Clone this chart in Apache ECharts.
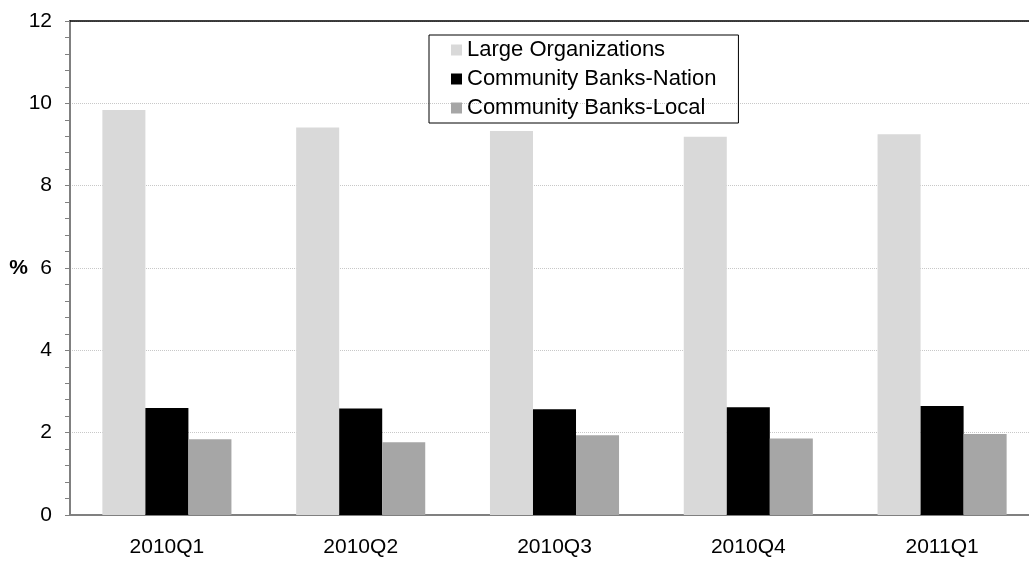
<!DOCTYPE html>
<html><head><meta charset="utf-8">
<script src="https://cdn.jsdelivr.net/npm/echarts@6/dist/echarts.min.js"></script>
<style>html,body{margin:0;padding:0;background:#fff}#c{width:1029px;height:563px}</style>
</head><body><div id="c"></div>
<script>
var categories = ['2010Q1','2010Q2','2010Q3','2010Q4','2011Q1'];
var largeOrg = [9.84, 9.41, 9.33, 9.19, 9.25];
var commNation = [2.60, 2.59, 2.57, 2.62, 2.65];
var commLocal = [1.84, 1.77, 1.94, 1.86, 1.97];
var seriesNames = ['Large Organizations','Community Banks-Nation','Community Banks-Local'];
var yTicks = [0, 2, 4, 6, 8, 10, 12];

var font = 'Arial, "Liberation Sans", sans-serif';
var chart = echarts.init(document.getElementById('c'), null, {renderer:'canvas'});
chart.setOption({
  animation:false,
  backgroundColor:'#fff',
  textStyle:{fontFamily:font},
  grid:{left:70, width:969, top:21, bottom:48, containLabel:false, outerBoundsMode:'none'},
  legend:{
    orient:'vertical', left:429, top:35,
    data:seriesNames,
    borderColor:'#000', borderWidth:1, borderRadius:0,
    padding:[4,22,4,22], itemGap:7, itemWidth:11, itemHeight:11,
    icon:'rect',
    textStyle:{fontSize:22, color:'#000', fontFamily:font}
  },
  xAxis:[{
    type:'category', data:categories, position:'bottom',
    axisLine:{lineStyle:{color:'#808080', width:2}},
    axisTick:{show:false},
    axisLabel:{fontSize:21, color:'#000', margin:22, fontFamily:font}
  },{
    type:'category', data:categories, position:'top',
    axisLine:{lineStyle:{color:'#000', width:1.5}},
    axisTick:{show:false}, axisLabel:{show:false}
  }],
  yAxis:{
    type:'value', min:yTicks[0], max:yTicks[yTicks.length-1], interval:2,
    name:'%', nameLocation:'middle', nameRotate:0, nameGap:42, nameMoveOverlap:false,
    nameTextStyle:{fontSize:21, fontWeight:'bold', color:'#000', fontFamily:font},
    axisLine:{show:true, lineStyle:{color:'#808080', width:2}},
    axisTick:{show:true, length:5, inside:false, lineStyle:{color:'#808080'}},
    minorTick:{show:true, splitNumber:5, length:5, lineStyle:{color:'#808080'}},
    axisLabel:{fontSize:21, color:'#000', margin:18, fontFamily:font},
    splitLine:{show:true, lineStyle:{color:'#c8c8c8', type:'dotted', width:1}}
  },
  series:[
    {name:seriesNames[0], type:'bar', data:largeOrg, itemStyle:{color:'#d9d9d9'}, barGap:'0%', barCategoryGap:'33.4%'},
    {name:seriesNames[1], type:'bar', data:commNation, itemStyle:{color:'#000000'}, barGap:'0%', barCategoryGap:'33.4%'},
    {name:seriesNames[2], type:'bar', data:commLocal, itemStyle:{color:'#a6a6a6'}, barGap:'0%', barCategoryGap:'33.4%'}
  ]
});
</script></body></html>
